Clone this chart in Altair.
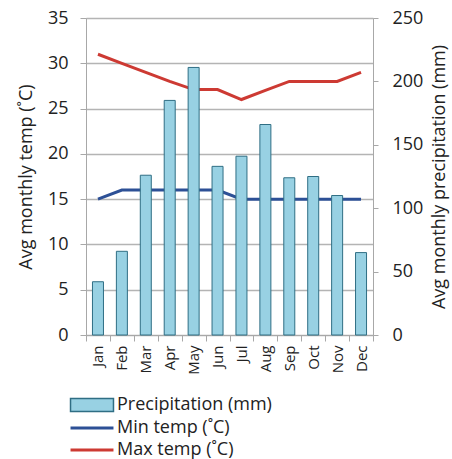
import altair as alt
import pandas as pd

months = ["Jan", "Feb", "Mar", "Apr", "May", "Jun", "Jul", "Aug", "Sep", "Oct", "Nov", "Dec"]
precip = [42, 66, 126, 185, 211, 133, 141, 166, 124, 125, 110, 65]
min_temp = [15, 16, 16, 16, 16, 16, 15, 15, 15, 15, 15, 15]
max_temp = [31, 30, 29, 28, 27.1, 27.1, 26, 27, 28, 28, 28, 29]

P_LABEL = "Precipitation (mm)"
MIN_LABEL = "Min temp  (˚C)"
MAX_LABEL = "Max temp  (˚C)"

FONT = "Open Sans"
TXT = "#222222"
AX = "#a8a8a8"

df_p = pd.DataFrame({"month": months, "precip": precip, "series": P_LABEL})
df_t = pd.DataFrame({
    "month": months * 2,
    "temp": min_temp + max_temp,
    "series": [MIN_LABEL] * 12 + [MAX_LABEL] * 12,
})

x_enc = alt.X(
    "month:N", sort=months, title=None,
    scale=alt.Scale(paddingInner=0, paddingOuter=0),
    axis=alt.Axis(labelAngle=-90, tickBand="extent", labelFontSize=15, labelColor=TXT,
                  domainColor=AX, tickColor=AX, tickSize=6, labelPadding=4,
                  labelFont=FONT),
)

bars = alt.Chart(df_p).mark_bar(size=11, stroke="#2f6e84", strokeWidth=1).encode(
    x=x_enc,
    y=alt.Y("precip:Q", scale=alt.Scale(domain=[0, 250]),
            axis=alt.Axis(orient="right", title="Avg monthly precipitation (mm)",
                          values=[0, 50, 100, 150, 200, 250], grid=False,
                          titleAngle=270, titlePadding=26, labelPadding=14,
                          labelFontSize=18, titleFontSize=18, titleFontWeight="normal",
                          labelColor=TXT, titleColor=TXT, domainColor=AX,
                          tickColor=AX, tickSize=5, labelFont=FONT, titleFont=FONT)),
    color=alt.Color("series:N",
                    scale=alt.Scale(domain=[P_LABEL], range=["#98d1e3"]),
                    legend=alt.Legend(title=None, orient="none", legendX=-3, legendY=378,
                                      symbolType="M-3,-0.9H3V0.9H-3Z", symbolSize=205,
                                      symbolStrokeColor="#2f6e84", symbolStrokeWidth=1.5,
                                      labelFontSize=18, labelFont=FONT, labelColor=TXT,
                                      padding=0, labelOffset=16)),
)

lines = alt.Chart(df_t).mark_line(strokeWidth=3).encode(
    x=x_enc,
    y=alt.Y("temp:Q", scale=alt.Scale(domain=[0, 35]),
            axis=alt.Axis(orient="left", title="Avg monthly temp (˚C)",
                          values=[0, 5, 10, 15, 20, 25, 30, 35], grid=True,
                          gridColor="#b4b4b4", gridWidth=1.5,
                          titlePadding=12, labelPadding=12,
                          labelFontSize=18, titleFontSize=18, titleFontWeight="normal",
                          labelColor=TXT, titleColor=TXT, domainColor=AX,
                          tickColor=AX, tickSize=6, labelFont=FONT, titleFont=FONT)),
    color=alt.Color("series:N",
                    scale=alt.Scale(domain=[MIN_LABEL, MAX_LABEL], range=["#2d5096", "#cd3a33"]),
                    legend=alt.Legend(title=None, orient="none", legendX=-3, legendY=401,
                                      symbolType="M-3,0H3", symbolSize=205, symbolStrokeWidth=3,
                                      labelFontSize=18, labelFont=FONT, labelColor=TXT,
                                      padding=0, labelOffset=16, rowPadding=4)),
    detail="series:N",
)

chart = alt.layer(lines, bars).resolve_scale(y="independent", color="independent").properties(
    width=287, height=317,
    autosize=alt.AutoSizeParams(type="none"),
    padding={"left": 86, "top": 18, "right": 79, "bottom": 124},
).configure_view(strokeWidth=0).configure(background="white")

chart.save("out.html", embed_options={"renderer": "svg", "actions": False})
